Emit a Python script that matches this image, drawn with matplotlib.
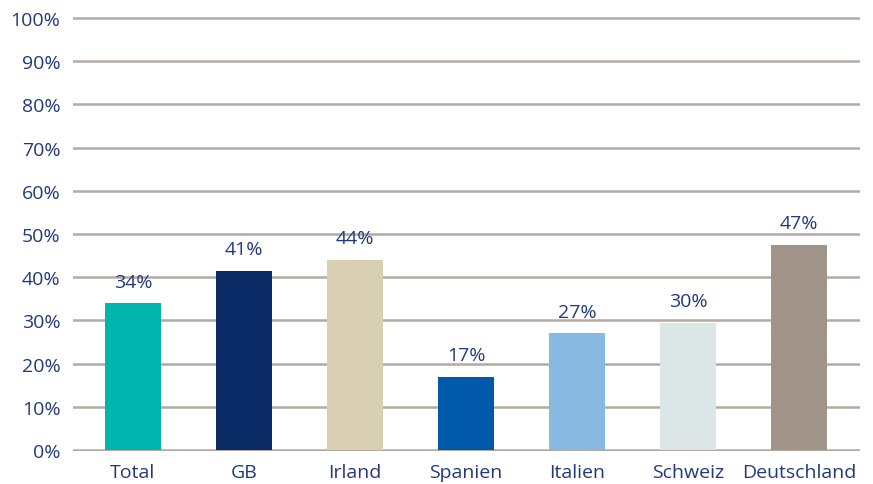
import numpy as np
import matplotlib.pyplot as plt

kategorien = ['Total', 'GB', 'Irland', 'Spanien', 'Italien', 'Schweiz', 'Deutschland']
werte = [34, 41.5, 44, 17, 27, 29.5, 47.5]
beschriftung = ['34%', '41%', '44%', '17%', '27%', '30%', '47%']
farben = ['#00B5AD', '#0A2A66', '#D9CFB3', '#0059A8', '#88B9E1', '#DDE6E6', '#A09488']
y_ticks = list(range(0, 101, 10))

text_farbe = '#23397A'
plt.rcParams['font.family'] = ['Open Sans', 'DejaVu Sans']

fig = plt.figure(figsize=(8.73, 4.85), dpi=100)
ax = fig.add_axes([73 / 873, 1 - 452 / 485, 787 / 873, 434 / 485])

x = np.arange(len(kategorien))
bars = ax.bar(x, werte, width=0.51, color=farben, zorder=3)

for b, txt in zip(bars, beschriftung):
    ax.annotate(txt, (b.get_x() + b.get_width() / 2, b.get_height()),
                xytext=(0, 9), textcoords='offset points',
                ha='center', va='bottom', fontsize=14, color=text_farbe)

ax.set_ylim(-0.25, 100.25)
ax.set_xlim(-0.54, 6.55)
ax.set_yticks(y_ticks)
ax.set_yticklabels([f'{v}%' for v in y_ticks])
ax.set_xticks(x)
ax.set_xticklabels(kategorien)
ax.tick_params(length=0, labelsize=14, labelcolor=text_farbe)
ax.tick_params(axis='y', pad=9)
ax.tick_params(axis='x', pad=9)
ax.grid(axis='y', color='#B3ABA3', lw=1.8, zorder=0)
ax.set_axisbelow(True)
for s in ax.spines.values():
    s.set_visible(False)

fig.savefig('out.png', dpi=100)
